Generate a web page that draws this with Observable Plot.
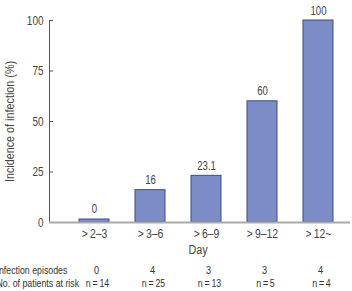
<!DOCTYPE html>
<html>
<head>
<meta charset="utf-8">
<script src="https://cdn.jsdelivr.net/npm/d3@7"></script>
<script src="https://cdn.jsdelivr.net/npm/@observablehq/plot@0.6"></script>
<style>
  body { margin: 0; background: #fff; }
  svg { font-family: "Liberation Sans", Arial, sans-serif; }
</style>
</head>
<body>
<div id="chart"></div>
<script>
// Day intervals after onset, and infection incidence per interval
const days = [">\u20092–3", ">\u20093–6", ">\u20096–9", ">\u20099–12", ">\u200912~"];
const incidence = [0, 16, 23.1, 60, 100];
const episodes = [0, 4, 3, 3, 4];
const atRisk = [14, 25, 13, 5, 4];
const yTicks = [0, 25, 50, 75, 100];
const yLabel = "Incidence of infection (%)";
const xLabel = "Day";
const rowLabels = ["Infection episodes", "No. of patients at risk"];

const rows = days.map((day, i) => ({day, incidence: incidence[i], episodes: episodes[i], atRisk: atRisk[i]}));
const zeroRows = rows.filter(d => d.incidence === 0);
const nonZeroRows = rows.filter(d => d.incidence !== 0);

const barFill = "#7b8cc6";
const barStroke = "#3e4a84";
const ink = "#444";
const narrow = 0.8; // horizontal squeeze for a condensed typeface look

const chart = Plot.plot({
  width: 352,
  height: 291,
  marginLeft: 49,
  marginRight: 2,
  marginTop: 20,
  marginBottom: 69,
  style: {background: "#fff", color: ink, fontSize: "12px"},
  x: {domain: days, range: [51.5, 360.5], padding: 0.47},
  y: {domain: [0, 100]},
  marks: [
    // y axis: inward ticks and labels
    Plot.axisY({ticks: yTicks, tickSize: -4, text: null, label: null, stroke: "#555"}),
    Plot.axisY({ticks: yTicks, tickSize: 0, tickPadding: 6, label: null, fill: ink, fontSize: 12.5}),
    Plot.frame({anchor: "left", stroke: "#555"}),
    Plot.text([yLabel], {frameAnchor: "left", textAnchor: "middle", rotate: -90, dx: -40, fill: ink, fontSize: 13.5}),
    // x axis labels
    Plot.axisX({tickSize: 0, tickPadding: 6, label: null, fill: ink, fontSize: 13}),
    Plot.text([xLabel], {frameAnchor: "bottom", dx: -2, dy: 31, fill: ink, fontSize: 13.5}),
    // bars
    Plot.barY(nonZeroRows, {x: "day", y: "incidence", fill: barFill, stroke: barStroke, strokeWidth: 1}),
    Plot.barY(zeroRows, {x: "day", y: "incidence", insetTop: -3, fill: barFill, stroke: barStroke, strokeWidth: 1}),
    Plot.ruleY([0], {stroke: "#aaa", strokeWidth: 2}),
    // value labels
    Plot.text(nonZeroRows, {x: "day", y: "incidence", text: d => String(d.incidence), dy: -6, lineAnchor: "bottom", fill: ink, fontSize: 12}),
    Plot.text(zeroRows, {x: "day", y: "incidence", text: d => String(d.incidence), dy: -10, lineAnchor: "bottom", fill: ink, fontSize: 12}),
    // table below the axis
    Plot.text(rows, {x: "day", text: d => String(d.episodes), frameAnchor: "bottom", dx: 2, dy: 51, fill: "#333", fontSize: 11.5}),
    Plot.text(rows, {x: "day", text: d => `n\u2009=\u2009${d.atRisk}`, frameAnchor: "bottom", dx: 3, dy: 64, fill: "#333", fontSize: 11}),
    Plot.text([rowLabels[0]], {frameAnchor: "bottom-left", dx: -53, dy: 51, textAnchor: "start", fill: "#333", fontSize: 11}),
    Plot.text([rowLabels[1]], {frameAnchor: "bottom-left", dx: -53, dy: 64, textAnchor: "start", fill: "#333", fontSize: 11})
  ]
});

// condense every label around its own anchor point
chart.querySelectorAll("text").forEach(t => {
  const tr = t.getAttribute("transform");
  if (tr) t.setAttribute("transform", `${tr} scale(${narrow},1)`);
  else {
    const x = +(t.getAttribute("x") || 0), y = +(t.getAttribute("y") || 0);
    t.setAttribute("transform", `translate(${x},${y}) scale(${narrow},1)`);
    t.removeAttribute("x"); t.removeAttribute("y");
  }
});
document.getElementById("chart").append(chart);
</script>
</body>
</html>
